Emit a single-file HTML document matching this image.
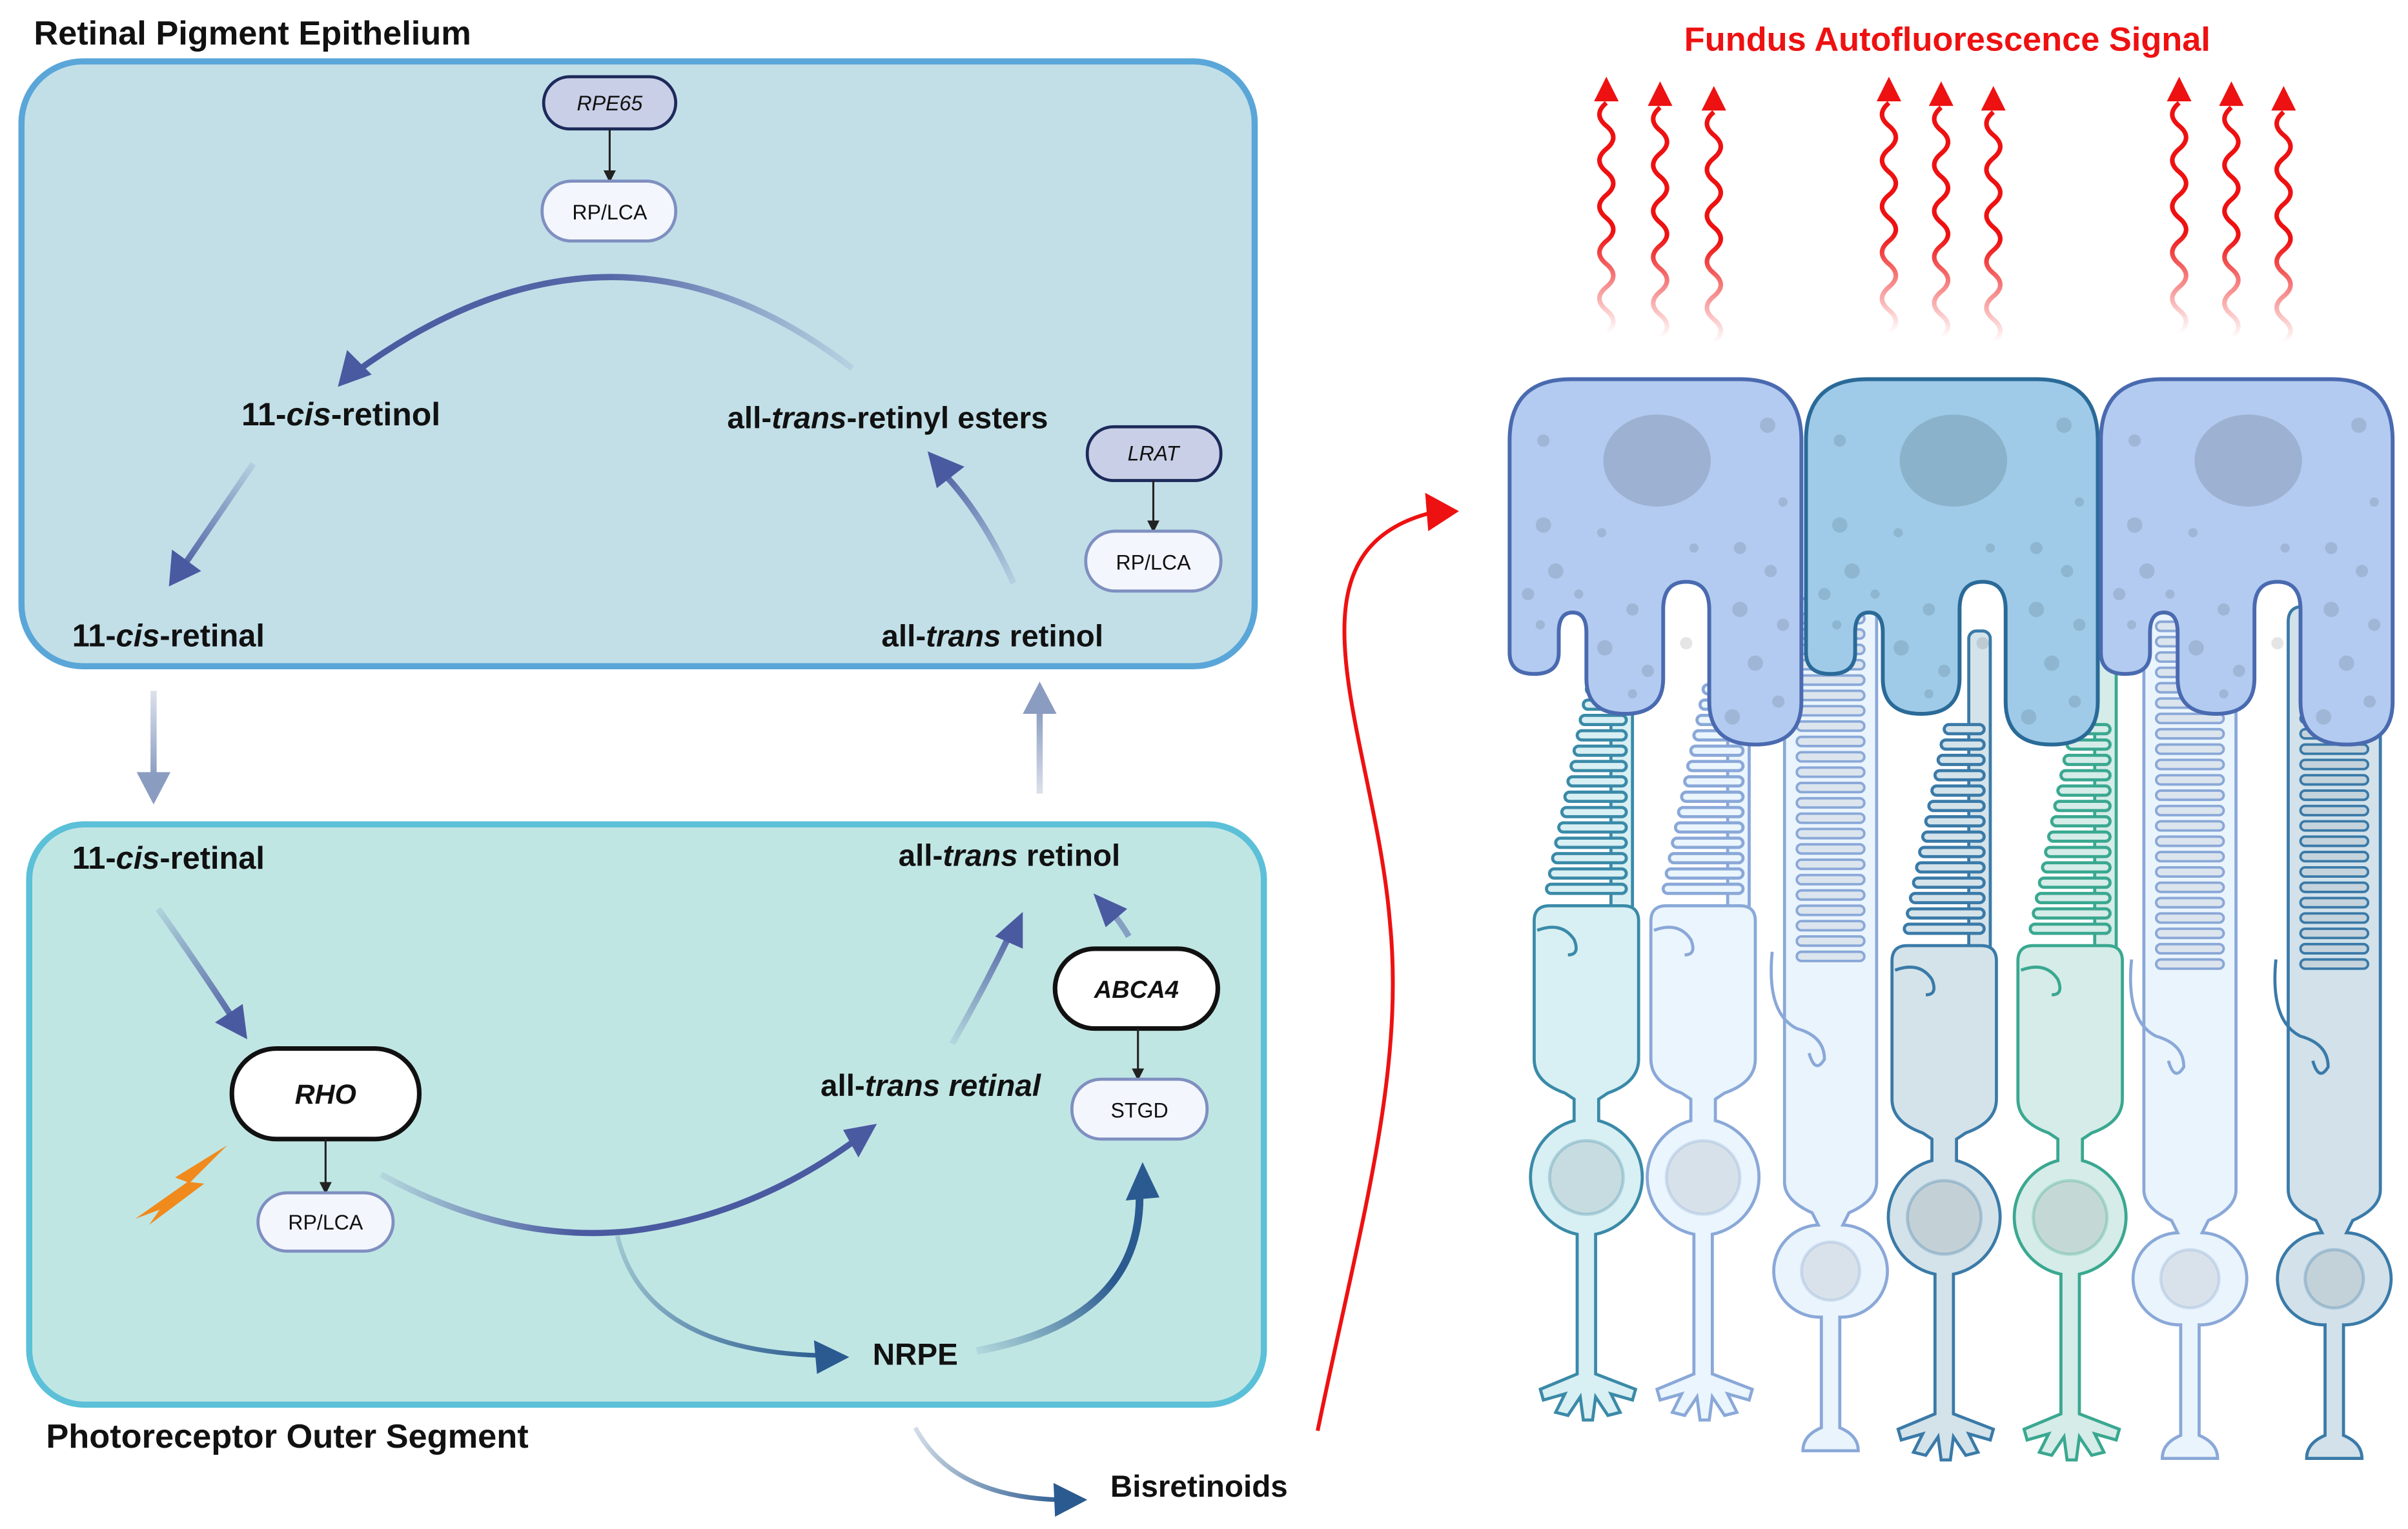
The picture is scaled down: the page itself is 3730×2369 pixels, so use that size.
<!DOCTYPE html>
<html><head><meta charset="utf-8"><style>
html,body{margin:0;padding:0;background:#fff}
svg{display:block}
text{font-family:"Liberation Sans",sans-serif}
.lb{font-weight:bold;font-size:20px;fill:#111}
.pl{font-size:13.5px;fill:#111}
</style></head><body>
<svg width="3730" height="2369" viewBox="0 0 1568 996" preserveAspectRatio="none" xmlns="http://www.w3.org/2000/svg">
<defs>
<marker id="ah" markerWidth="8" markerHeight="8" refX="6" refY="4" orient="auto" markerUnits="userSpaceOnUse"><path d="M0,0 L8,4 L0,8 Z" fill="#222"/></marker>
<linearGradient id="g1" gradientUnits="userSpaceOnUse" x1="555" y1="240" x2="240" y2="240"><stop offset="0" stop-color="#4a5aa0" stop-opacity="0.1"/><stop offset="0.5" stop-color="#4a5aa0" stop-opacity="0.9"/><stop offset="1" stop-color="#4a5aa0"/></linearGradient>
<linearGradient id="g2" gradientUnits="userSpaceOnUse" x1="165" y1="300" x2="115" y2="375"><stop offset="0" stop-color="#4a5aa0" stop-opacity="0.1"/><stop offset="1" stop-color="#4a5aa0"/></linearGradient>
<linearGradient id="g3" gradientUnits="userSpaceOnUse" x1="660" y1="380" x2="610" y2="300"><stop offset="0" stop-color="#4a5aa0" stop-opacity="0.1"/><stop offset="1" stop-color="#4a5aa0"/></linearGradient>
<linearGradient id="g4" gradientUnits="userSpaceOnUse" x1="100" y1="590" x2="158" y2="672"><stop offset="0" stop-color="#4a5aa0" stop-opacity="0.1"/><stop offset="1" stop-color="#4a5aa0"/></linearGradient>
<linearGradient id="g5" gradientUnits="userSpaceOnUse" x1="248" y1="0" x2="565" y2="0"><stop offset="0" stop-color="#4a5aa0" stop-opacity="0.1"/><stop offset="0.4" stop-color="#4a5aa0"/><stop offset="1" stop-color="#4a5aa0"/></linearGradient>
<linearGradient id="g6" gradientUnits="userSpaceOnUse" x1="620" y1="680" x2="662" y2="600"><stop offset="0" stop-color="#4a5aa0" stop-opacity="0.1"/><stop offset="1" stop-color="#4a5aa0"/></linearGradient>
<linearGradient id="g7" gradientUnits="userSpaceOnUse" x1="636" y1="880" x2="742" y2="765"><stop offset="0" stop-color="#2a5a90" stop-opacity="0.1"/><stop offset="0.6" stop-color="#2a5a90"/><stop offset="1" stop-color="#2a5a90"/></linearGradient>
<linearGradient id="g8" gradientUnits="userSpaceOnUse" x1="402" y1="800" x2="540" y2="884"><stop offset="0" stop-color="#2a5a90" stop-opacity="0.2"/><stop offset="1" stop-color="#2a5a90"/></linearGradient>
<linearGradient id="g9" gradientUnits="userSpaceOnUse" x1="596" y1="930" x2="695" y2="978"><stop offset="0" stop-color="#2a5a90" stop-opacity="0.2"/><stop offset="1" stop-color="#2a5a90"/></linearGradient>
<linearGradient id="gv1" x1="0" y1="0" x2="0" y2="1"><stop offset="0" stop-color="#8a9cc0" stop-opacity="0.3"/><stop offset="1" stop-color="#8a9cc0"/></linearGradient>
<linearGradient id="gv2" x1="0" y1="1" x2="0" y2="0"><stop offset="0" stop-color="#8a9cc0" stop-opacity="0.3"/><stop offset="1" stop-color="#8a9cc0"/></linearGradient>
<linearGradient id="gw" gradientUnits="userSpaceOnUse" x1="0" y1="0" x2="0" y2="165"><stop offset="0" stop-color="#ee1111"/><stop offset="0.6" stop-color="#ee1111"/><stop offset="1" stop-color="#ee1111" stop-opacity="0"/></linearGradient>
<symbol id="wave" overflow="visible">
<path d="M0,165 q9,-7.5 0,-15 t0,-15 t0,-15 t0,-15 t0,-15 t0,-15 t0,-15 t0,-15 t0,-15 t0,-15" fill="none" stroke="url(#gw)" stroke-width="3"/>
<path d="M0,-2 L-8,14 L8,14 Z" fill="#ee1111"/>
</symbol>
<symbol id="rpe" overflow="visible">
<path d="M0,40 Q0,0 40,0 L150,0 Q190,0 190,40 L190,210 Q190,238 160,238 Q130,238 130,210 L130,150 Q130,132 115,132 Q100,132 100,150 L100,195 Q100,218 75,218 Q50,218 50,195 L50,165 Q50,152 41,152 Q32,152 32,165 L32,178 Q32,192 16,192 Q0,192 0,178 Z" stroke-width="2.5"/>
<ellipse cx="96" cy="53" rx="35" ry="30" fill="#000" fill-opacity="0.12" stroke="none"/>
<g fill="#000" fill-opacity="0.1" stroke="none">
<circle cx="22" cy="40" r="4"/><circle cx="168" cy="30" r="5"/><circle cx="22" cy="95" r="5"/><circle cx="60" cy="100" r="3"/><circle cx="150" cy="110" r="4"/><circle cx="120" cy="110" r="3"/><circle cx="30" cy="125" r="5"/><circle cx="170" cy="125" r="4"/><circle cx="12" cy="140" r="4"/><circle cx="45" cy="140" r="3"/><circle cx="80" cy="150" r="4"/><circle cx="150" cy="150" r="5"/><circle cx="178" cy="160" r="4"/><circle cx="20" cy="160" r="3"/><circle cx="62" cy="175" r="5"/><circle cx="90" cy="190" r="4"/><circle cx="115" cy="172" r="4"/><circle cx="160" cy="185" r="5"/><circle cx="175" cy="210" r="4"/><circle cx="145" cy="220" r="5"/><circle cx="80" cy="205" r="3"/><circle cx="178" cy="80" r="3"/>
</g>
</symbol>
<symbol id="cone" overflow="visible">
<rect x="52" y="385" width="14" height="215" rx="5" stroke-width="2"/>
<g stroke-width="2">
<rect x="36" y="446" width="26" height="6" rx="3"/><rect x="34" y="456" width="28" height="6" rx="3"/><rect x="32" y="466" width="30" height="6" rx="3"/><rect x="30" y="476" width="32" height="6" rx="3"/><rect x="28" y="486" width="34" height="6" rx="3"/><rect x="26" y="496" width="36" height="6" rx="3"/><rect x="24" y="506" width="38" height="6" rx="3"/><rect x="22" y="516" width="40" height="6" rx="3"/><rect x="20" y="526" width="42" height="6" rx="3"/><rect x="18" y="536" width="44" height="6" rx="3"/><rect x="16" y="546" width="46" height="6" rx="3"/><rect x="14" y="556" width="48" height="6" rx="3"/><rect x="12" y="566" width="50" height="6" rx="3"/><rect x="10" y="576" width="52" height="6" rx="3"/>
</g>
<path d="M2,600 L2,690 Q2,705 22,712 L28,716 L28,730 A38,38 0 0 0 30,804 L30,895 L6,905 L8,912 L22,908 L16,920 L24,922 L32,910 L34,925 L40,925 L42,910 L50,922 L58,920 L52,908 L66,912 L68,905 L42,895 L42,804 A38,38 0 0 0 44,730 L44,716 L50,712 Q70,705 70,690 L70,600 Q70,590 60,590 L12,590 Q2,590 2,600 Z" stroke-width="2"/>
<path d="M4,606 Q20,600 28,612 Q32,622 24,622" fill="none" stroke-width="2"/>
<circle cx="36" cy="767" r="24" fill="#000" fill-opacity="0.08" stroke-opacity="0.3" stroke-width="2"/>
</symbol>
<symbol id="rod" overflow="visible">
<path d="M2,400 Q2,390 12,390 L52,390 Q62,390 62,400 L62,770 Q62,782 44,790 L40,798 A30,30 0 0 1 38,858 L38,930 Q50,935 50,945 L14,945 Q14,935 26,930 L26,858 A30,30 0 0 1 24,798 L20,790 Q2,782 2,770 Z" stroke-width="2"/>
<g fill="#000" fill-opacity="0.06" stroke-width="1.6">
<rect x="10" y="400" width="44" height="6" rx="3"/><rect x="10" y="410" width="44" height="6" rx="3"/><rect x="10" y="420" width="44" height="6" rx="3"/><rect x="10" y="430" width="44" height="6" rx="3"/><rect x="10" y="440" width="44" height="6" rx="3"/><rect x="10" y="450" width="44" height="6" rx="3"/><rect x="10" y="460" width="44" height="6" rx="3"/><rect x="10" y="470" width="44" height="6" rx="3"/><rect x="10" y="480" width="44" height="6" rx="3"/><rect x="10" y="490" width="44" height="6" rx="3"/><rect x="10" y="500" width="44" height="6" rx="3"/><rect x="10" y="510" width="44" height="6" rx="3"/><rect x="10" y="520" width="44" height="6" rx="3"/><rect x="10" y="530" width="44" height="6" rx="3"/><rect x="10" y="540" width="44" height="6" rx="3"/><rect x="10" y="550" width="44" height="6" rx="3"/><rect x="10" y="560" width="44" height="6" rx="3"/><rect x="10" y="570" width="44" height="6" rx="3"/><rect x="10" y="580" width="44" height="6" rx="3"/><rect x="10" y="590" width="44" height="6" rx="3"/><rect x="10" y="600" width="44" height="6" rx="3"/><rect x="10" y="610" width="44" height="6" rx="3"/><rect x="10" y="620" width="44" height="6" rx="3"/>
</g>
<path d="M-6,620 Q-10,660 10,670 Q28,675 28,690 Q22,700 18,686" fill="none" stroke-width="2"/>
<circle cx="32" cy="828" r="19" fill="#000" fill-opacity="0.07" stroke-opacity="0.3" stroke-width="2"/>
</symbol>
</defs>

<rect width="1568" height="996" fill="#fff"/>

<text x="22" y="29" class="lb" style="font-size:22px">Retinal Pigment Epithelium</text>
<rect x="14" y="40" width="803" height="394" rx="40" fill="#c2dfe8" stroke="#5aa6d8" stroke-width="4"/>
<rect x="354" y="50" width="86" height="34" rx="17" fill="#c9cfe6" stroke="#1d2a5a" stroke-width="2"/>
<text x="397" y="72" text-anchor="middle" class="pl" font-style="italic">RPE65</text>
<line x1="397" y1="84" x2="397" y2="117" stroke="#222" stroke-width="1.3" marker-end="url(#ah)"/>
<rect x="353" y="118" width="87" height="39" rx="19" fill="#f3f6fc" stroke="#7f8fc0" stroke-width="2"/>
<text x="397" y="143" text-anchor="middle" class="pl">RP/LCA</text>
<path d="M555,240 Q400,120 232,242" fill="none" stroke="url(#g1)" stroke-width="4"/>
<path d="M220,252 L226,228 L242,244 Z" fill="#4a5aa0"/>
<text x="222" y="277" text-anchor="middle" class="lb" style="font-size:21px">11-<tspan font-style="italic">cis</tspan>-retinol</text>
<text x="578" y="279" text-anchor="middle" class="lb">all-<tspan font-style="italic">trans</tspan>-retinyl esters</text>
<path d="M165,302 L120,368" stroke="url(#g2)" stroke-width="4" fill="none"/>
<path d="M110,382 L112,358 L131,372 Z" fill="#4a5aa0"/>
<path d="M660,380 Q640,335 614,308" stroke="url(#g3)" stroke-width="4" fill="none"/>
<path d="M604,294 L628,304 L610,318 Z" fill="#4a5aa0"/>
<rect x="708" y="278" width="87" height="35" rx="17" fill="#c9cfe6" stroke="#1d2a5a" stroke-width="2"/>
<text x="751" y="300" text-anchor="middle" class="pl" font-style="italic">LRAT</text>
<line x1="751" y1="313" x2="751" y2="345" stroke="#222" stroke-width="1.3" marker-end="url(#ah)"/>
<rect x="707" y="346" width="88" height="39" rx="19" fill="#f3f6fc" stroke="#7f8fc0" stroke-width="2"/>
<text x="751" y="371" text-anchor="middle" class="pl">RP/LCA</text>
<text x="47" y="421" class="lb" style="font-size:20.5px">11-<tspan font-style="italic">cis</tspan>-retinal</text>
<text x="574" y="421" class="lb">all-<tspan font-style="italic">trans</tspan> retinol</text>

<rect x="98" y="450" width="4" height="56" fill="url(#gv1)"/>
<path d="M89,503 L111,503 L100,524 Z" fill="#8a9cc0"/>
<rect x="675" y="462" width="4" height="55" fill="url(#gv2)"/>
<path d="M666,465 L688,465 L677,444 Z" fill="#8a9cc0"/>

<rect x="19" y="537" width="804" height="378" rx="36" fill="#c0e6e4" stroke="#5bc0d8" stroke-width="4"/>
<text x="47" y="566" class="lb" style="font-size:20.5px">11-<tspan font-style="italic">cis</tspan>-retinal</text>
<text x="585" y="564" class="lb">all-<tspan font-style="italic">trans</tspan> retinol</text>
<path d="M103,592 Q130,630 152,664" stroke="url(#g4)" stroke-width="4" fill="none"/>
<path d="M161,677 L140,666 L158,654 Z" fill="#4a5aa0"/>
<rect x="151" y="683" width="122" height="59" rx="29" fill="#fff" stroke="#111" stroke-width="3"/>
<text x="212" y="719" text-anchor="middle" font-weight="bold" font-style="italic" font-size="18" fill="#111">RHO</text>
<line x1="212" y1="742" x2="212" y2="776" stroke="#222" stroke-width="1.3" marker-end="url(#ah)"/>
<rect x="168" y="777" width="88" height="38" rx="19" fill="#f3f6fc" stroke="#7f8fc0" stroke-width="2"/>
<text x="212" y="801" text-anchor="middle" class="pl">RP/LCA</text>
<path d="M88,794 L122,770 L114,767 L148,746 L124,770 L133,771 L97,798 L104,788 Z" fill="#f08a1c"/>
<path d="M248,765 Q330,810 410,802 Q490,792 558,742" stroke="url(#g5)" stroke-width="4" fill="none"/>
<path d="M571,732 L559,754 L549,736 Z" fill="#4a5aa0"/>
<text x="606" y="714" text-anchor="middle" class="lb">all-<tspan font-style="italic">trans retinal</tspan></text>
<path d="M620,680 Q640,645 658,608" stroke="url(#g6)" stroke-width="4" fill="none"/>
<path d="M666,594 L666,618 L648,610 Z" fill="#4a5aa0"/>
<path d="M735,610 Q728,598 720,590" stroke="#4a5aa0" stroke-opacity="0.5" stroke-width="4" fill="none"/>
<path d="M712,582 L734,592 L720,604 Z" fill="#4a5aa0"/>
<rect x="687" y="618" width="106" height="52" rx="26" fill="#fff" stroke="#111" stroke-width="3"/>
<text x="740" y="650" text-anchor="middle" font-weight="bold" font-style="italic" font-size="16" fill="#111">ABCA4</text>
<line x1="741" y1="670" x2="741" y2="702" stroke="#222" stroke-width="1.3" marker-end="url(#ah)"/>
<rect x="698" y="703" width="88" height="39" rx="19" fill="#f3f6fc" stroke="#7f8fc0" stroke-width="2"/>
<text x="742" y="728" text-anchor="middle" class="pl">STGD</text>
<path d="M402,805 Q420,880 535,883" stroke="url(#g8)" stroke-width="3" fill="none"/>
<path d="M553,884 L530,873 L532,895 Z" fill="#2a5a90"/>
<text x="596" y="889" text-anchor="middle" class="lb">NRPE</text>
<path d="M636,880 Q745,860 742,775" stroke="url(#g7)" stroke-width="5" fill="none"/>
<path d="M744,757 L733,782 L755,780 Z" fill="#2a5a90"/>
<text x="30" y="943" class="lb" style="font-size:22px">Photoreceptor Outer Segment</text>
<path d="M596,930 Q620,975 690,977" stroke="url(#g9)" stroke-width="3" fill="none"/>
<path d="M708,977 L686,966 L687,988 Z" fill="#2a5a90"/>
<text x="723" y="975" class="lb">Bisretinoids</text>

<path d="M858,932 C885,800 915,700 905,600 C895,480 830,360 932,334" stroke="#ee1111" stroke-width="2.5" fill="none"/>
<path d="M950,333 L928,321 L930,346 Z" fill="#ee1111"/>

<text x="1268" y="33" text-anchor="middle" font-weight="bold" font-size="22" fill="#ee1111">Fundus Autofluorescence Signal</text>
<use href="#wave" x="1046" y="52"/><use href="#wave" x="1081" y="55"/><use href="#wave" x="1116" y="58"/>
<use href="#wave" x="1230" y="52"/><use href="#wave" x="1264" y="55"/><use href="#wave" x="1298" y="58"/>
<use href="#wave" x="1419" y="52"/><use href="#wave" x="1453" y="55"/><use href="#wave" x="1487" y="58"/>

<use href="#cone" x="997" y="0" fill="#d8eff3" stroke="#3a8aa8"/>
<use href="#cone" x="1073" y="0" fill="#eaf5fd" stroke="#8aa8d8"/>
<use href="#rod" x="1160" y="0" fill="#eaf4fc" stroke="#8aa8d8"/>
<use href="#cone" x="1230" y="26" fill="#d4e3ea" stroke="#3a7aa8"/>
<use href="#cone" x="1312" y="26" fill="#d5ece8" stroke="#3aa890"/>
<use href="#rod" x="1394" y="5" fill="#eaf4fc" stroke="#8aa8d8"/>
<use href="#rod" x="1488" y="5" fill="#d2e1ea" stroke="#3a7aa8"/>

<use href="#rpe" x="983" y="247" fill="#b3cbf0" stroke="#4a6ab0"/>
<use href="#rpe" x="1176" y="247" fill="#9fcbe8" stroke="#2a6a98"/>
<use href="#rpe" x="1368" y="247" fill="#b3cbf0" stroke="#4a6ab0"/>
</svg>
</body></html>
